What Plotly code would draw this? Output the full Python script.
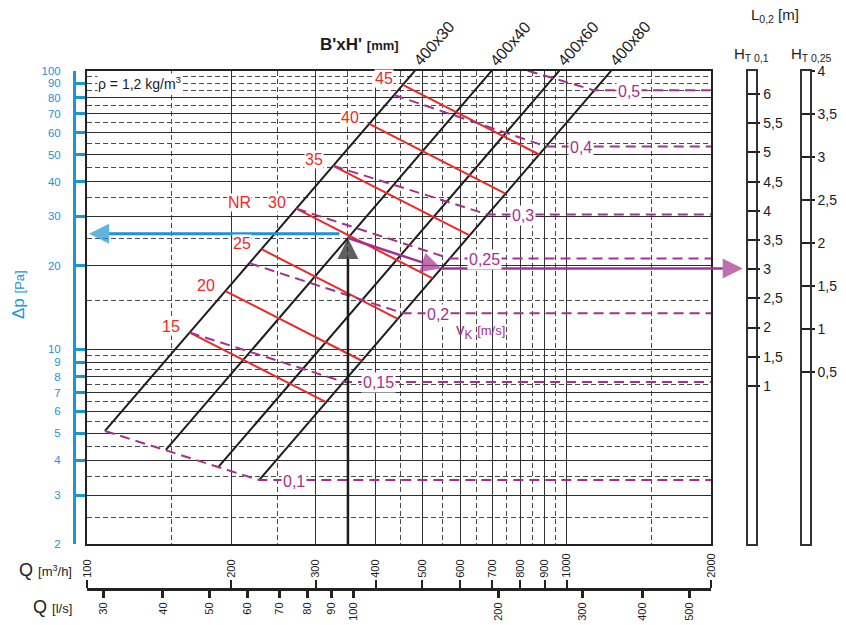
import math
import plotly.graph_objects as go

L = math.log10

# ---------------- data ----------------
Q_TICKS_M3H = [100, 200, 300, 400, 500, 600, 700, 800, 900, 1000, 2000]
Q_TICKS_LS = [30, 40, 50, 60, 70, 80, 90, 100, 200, 300, 400, 500]
DP_TICKS = [2, 3, 4, 5, 6, 7, 8, 9, 10, 20, 30, 40, 50, 60, 70, 80, 90, 100]

GRID_Q_SOLID = [200, 300, 400, 500, 600, 700, 800, 900, 1000]
GRID_Q_DASH = [150, 250, 350, 450, 550, 650, 750, 850, 950, 1500]
GRID_DP_SOLID = [3, 4, 5, 6, 7, 8, 9, 10, 20, 30, 40, 50, 60, 70, 80]
GRID_DP_DASH = [2.5, 3.5, 4.5, 5.5, 6.5, 7.5, 8.5, 9.5,
                15, 25, 35, 45, 55, 65, 75, 85, 90, 95]

# duct sizes B'xH' (black lines), endpoints (Q m3/h, dp Pa)
DUCTS = ["400x30", "400x40", "400x60", "400x80"]
DUCT_Q_LO = [109, 146, 188, 228.5]
DUCT_DP_LO = [5.1, 4.36, 3.79, 3.4]
DUCT_Q_HI = [483, 698, 966, 1239]
DUCT_DP_HI = [100, 100, 100, 100]

# NR lines (red)
NR = [15, 20, 25, 30, 35, 40, 45]
NR_Q0 = [163.8, 194.4, 231.1, 273.3, 326.2, 387.6, 455.7]
NR_DP0 = [11.5, 16.2, 22.9, 32.0, 45.6, 64.4, 89.0]
NR_Q1 = [315.1, 374.1, 444.6, 525.6, 627.5, 745.6, 876.4]
NR_DP1 = [6.47, 9.11, 12.88, 17.99, 25.64, 36.22, 50.05]

# velocity lines v_K (purple dashed): start, corner, then horizontal to Q max
VK = ["0,1", "0,15", "0,2", "0,25", "0,3", "0,4", "0,5"]
VK_Q0 = [109, 163.8, 218.2, 273.3, 326.2, 436.9, 830]
VK_DP0 = [5.1, 11.5, 20.4, 32.0, 45.6, 81.8, 100]
VK_QC = [228.5, 342.7, 455.2, 570.6, 684.3, 906.4, 1142.5]
VK_DPC = [3.4, 7.65, 13.5, 21.2, 30.5, 53.5, 85.0]
Q_MAX = 2000

# reading example (arrows)
Q_SEL = 350          # m3/h, black arrow
DP_SEL = 25.1        # Pa, on 400x40
DP_BLUE = 26         # Pa, blue read-out
Q_BLUE_FROM = 336
Q_BLUE_TO = 101
Q_V = 548            # on 400x80 along velocity line
DP_V = 19.5

# right scales
HT01_TICKS = [1, 1.5, 2, 2.5, 3, 3.5, 4, 4.5, 5, 5.5, 6]
HT025_TICKS = [0.5, 1, 1.5, 2, 2.5, 3, 3.5, 4]

# ---------------- layout constants ----------------
W, H = 846, 625
PX0, PX1 = 87 / W, 711 / W
PY0, PY1 = 1 - 544.3 / H, 1 - 70.7 / H
AX_Y = 1 - 589 / H
BAR1 = [747.7 / W, 755.7 / W]
BAR2 = [801.7 / W, 810.0 / W]

FONT = "Liberation Sans, Arial, Helvetica, sans-serif"
BLACK = "#1c1c1c"
RED = "#ec2a25"
PURPLE = "#a4308f"
BLUE = "#1b95d4"


def fmt(v):
    return f"{v:g}".replace(".", ",")


fig = go.Figure()

# duct lines
for i, name in enumerate(DUCTS):
    fig.add_trace(go.Scatter(x=[DUCT_Q_LO[i], DUCT_Q_HI[i]], y=[DUCT_DP_LO[i], DUCT_DP_HI[i]],
                             mode="lines", line=dict(color=BLACK, width=2), hoverinfo="skip",
                             showlegend=False))
# NR lines
for i, n in enumerate(NR):
    fig.add_trace(go.Scatter(x=[NR_Q0[i], NR_Q1[i]], y=[NR_DP0[i], NR_DP1[i]],
                             mode="lines", line=dict(color=RED, width=2), hoverinfo="skip",
                             showlegend=False))
# velocity lines
for i, v in enumerate(VK):
    fig.add_trace(go.Scatter(x=[VK_Q0[i], VK_QC[i], Q_MAX], y=[VK_DP0[i], VK_DPC[i], VK_DPC[i]],
                             mode="lines", line=dict(color=PURPLE, width=2, dash="10px,6px"),
                             hoverinfo="skip", showlegend=False))

# overlay full-figure axes for arrows (same mapping as main plot)
kx = (L(2000) - L(100)) / (PX1 - PX0)
OX = [L(100) - PX0 * kx, L(2000) + (1 - PX1) * kx]
ky = (L(100) - L(2)) / (PY1 - PY0)
OY = [L(2) - PY0 * ky, L(100) + (1 - PY1) * ky]
q_tip = 10 ** (OX[0] + (BAR1[0] - 5 / W) * (OX[1] - OX[0]))

arrow = dict(symbol="arrow-up", angleref="previous", line=dict(width=0))
fig.add_trace(go.Scatter(x=[Q_SEL, Q_SEL], y=[2, DP_SEL], xaxis="x7", yaxis="y7",
                         mode="lines+markers", line=dict(color=BLACK, width=2.5),
                         marker=dict(size=[0, 21], color=BLACK, **arrow),
                         cliponaxis=False, hoverinfo="skip", showlegend=False))
fig.add_trace(go.Scatter(x=[Q_BLUE_FROM, Q_BLUE_TO], y=[DP_BLUE, DP_BLUE], xaxis="x7", yaxis="y7",
                         mode="lines+markers", line=dict(color=BLUE, width=3),
                         marker=dict(size=[0, 20], color=BLUE, **arrow),
                         cliponaxis=False, hoverinfo="skip", showlegend=False))
fig.add_trace(go.Scatter(x=[Q_SEL, Q_V, q_tip], y=[DP_SEL, DP_V, DP_V], xaxis="x7", yaxis="y7",
                         mode="lines+markers", line=dict(color=PURPLE, width=2.5),
                         marker=dict(size=[0, 20, 20], color=PURPLE, **arrow),
                         cliponaxis=False, hoverinfo="skip", showlegend=False))

# empty traces to register auxiliary axes
for xa, ya in [("x", "y3"), ("x3", "y"), ("x4", "y"), ("x5", "y5"), ("x6", "y6")]:
    fig.add_trace(go.Scatter(x=[None], y=[None], xaxis=xa, yaxis=ya, mode="lines",
                             showlegend=False, hoverinfo="skip"))

NOAM = dict(automargin=False)

# ---------------- axes ----------------
fig.update_layout(
    width=W, height=H, margin=dict(l=0, r=0, t=0, b=0, pad=0, autoexpand=False),
    paper_bgcolor="white", plot_bgcolor="rgba(0,0,0,0)",
    font=dict(family=FONT, color=BLACK),
    showlegend=False,
    xaxis=dict(type="log", domain=[PX0, PX1], range=[L(100), L(2000)], anchor="y",
               tickmode="array", tickvals=GRID_Q_SOLID, showticklabels=False, ticks="",
               showgrid=True, gridcolor="#333333", gridwidth=1.2, zeroline=False,
               minor=dict(tickmode="array", tickvals=GRID_Q_DASH, showgrid=True,
                          gridcolor="#4a4a4a", gridwidth=1, griddash="5px,3px", ticks=""),
               showline=True, mirror=True, linecolor="#222", linewidth=2.2, **NOAM),
    yaxis=dict(type="log", domain=[PY0, PY1], range=[L(2), L(100)], anchor="x",
               tickmode="array", tickvals=GRID_DP_SOLID, showticklabels=False, ticks="",
               showgrid=True, gridcolor="#2e2e2e", gridwidth=1.2, zeroline=False,
               minor=dict(tickmode="array", tickvals=GRID_DP_DASH, showgrid=True,
                          gridcolor="#4a4a4a", gridwidth=1, griddash="5px,3px", ticks=""),
               showline=True, mirror=True, linecolor="#222", linewidth=2.2, **NOAM),
    yaxis3=dict(type="log", overlaying="y", anchor="free", position=74 / W, side="left",
                range=[L(2), L(100)], tickmode="array", tickvals=DP_TICKS,
                ticktext=[str(v) for v in DP_TICKS], ticks="inside", ticklen=9, tickwidth=2.5,
                tickcolor=BLUE, showline=True, linecolor=BLUE, linewidth=3, showgrid=False,
                zeroline=False, tickfont=dict(color=BLUE, size=11.5), ticklabelstandoff=10,
                **NOAM),
    xaxis3=dict(type="log", overlaying="x", anchor="free", position=AX_Y, side="top",
                range=[L(100), L(2000)], tickmode="array", tickvals=Q_TICKS_M3H,
                ticktext=[str(v) for v in Q_TICKS_M3H], ticks="outside", ticklen=8, tickwidth=2,
                tickcolor="#222", showline=True, linecolor="#222", linewidth=3, showgrid=False,
                zeroline=False, tickangle=-90, tickfont=dict(size=11), **NOAM),
    xaxis4=dict(type="log", overlaying="x", anchor="free", position=AX_Y, side="bottom",
                range=[L(100 / 3.6), L(2000 / 3.6)], tickmode="array", tickvals=Q_TICKS_LS,
                ticktext=[str(v) for v in Q_TICKS_LS], ticks="outside", ticklen=8, tickwidth=3,
                tickcolor="#222", showline=False, showgrid=False, zeroline=False,
                tickangle=-90, tickfont=dict(size=11), **NOAM),
    xaxis5=dict(domain=BAR1, range=[0, 1], anchor="y5", showline=True, mirror=True,
                linecolor="#333", linewidth=1.5, ticks="", showticklabels=False,
                showgrid=False, zeroline=False, **NOAM),
    yaxis5=dict(domain=[PY0, PY1], range=[-1.711, 6.399], anchor="x5", side="right",
                showline=True, mirror=True, linecolor="#333", linewidth=1.5,
                tickmode="array", tickvals=HT01_TICKS, ticktext=[fmt(v) for v in HT01_TICKS],
                ticks="outside", ticklen=3, tickwidth=2, tickcolor="#222",
                showgrid=True, gridcolor="#222", gridwidth=2, zeroline=False,
                tickfont=dict(size=14), **NOAM),
    xaxis6=dict(domain=BAR2, range=[0, 1], anchor="y6", showline=True, mirror=True,
                linecolor="#333", linewidth=1.5, ticks="", showticklabels=False,
                showgrid=False, zeroline=False, **NOAM),
    yaxis6=dict(domain=[PY0, PY1], range=[-1.496, 4.0], anchor="x6", side="right",
                showline=True, mirror=True, linecolor="#333", linewidth=1.5,
                tickmode="array", tickvals=HT025_TICKS, ticktext=[fmt(v) for v in HT025_TICKS],
                ticks="outside", ticklen=3, tickwidth=2, tickcolor="#222",
                showgrid=True, gridcolor="#222", gridwidth=2, zeroline=False,
                tickfont=dict(size=14), **NOAM),
    xaxis7=dict(type="log", domain=[0, 1], range=OX, anchor="y7", visible=False, **NOAM),
    yaxis7=dict(type="log", domain=[0, 1], range=OY, anchor="x7", visible=False, **NOAM),
)

# ---------------- annotations ----------------
C = dict(xanchor="center", yanchor="middle", showarrow=False)
ann = []
for i, name in enumerate(DUCTS):
    ann.append(dict(x=L(DUCT_Q_HI[i]), y=L(DUCT_DP_HI[i]), xref="x", yref="y", text=name,
                    textangle=-49, xshift=19, yshift=27,
                    font=dict(size=16, color=BLACK), **C))
for i, n in enumerate(NR):
    ann.append(dict(x=L(NR_Q0[i]), y=L(NR_DP0[i]), xref="x", yref="y", text=str(n),
                    xshift=-19, yshift=6, bgcolor="white", borderpad=0,
                    font=dict(size=16, color=RED), **C))
ann.append(dict(x=L(NR_Q0[3]), y=L(NR_DP0[3]), xref="x", yref="y", text="NR",
                xshift=-57, yshift=6.5, bgcolor="white", borderpad=0,
                font=dict(size=16, color=RED), **C))
for i, v in enumerate(VK):
    ann.append(dict(x=L(VK_QC[i]), y=L(VK_DPC[i]), xref="x", yref="y", text=v,
                    xshift=35, yshift=-1, bgcolor="white", borderpad=1,
                    font=dict(size=16, color=PURPLE), **C))
ann += [
    dict(x=L(105), y=L(90), xref="x", yref="y", xanchor="left", yanchor="middle",
         text="ρ = 1,2 kg/m<sup>3</sup>", showarrow=False, bgcolor="white", borderpad=0,
         font=dict(size=14, color=BLACK)),
    dict(x=L(660), y=L(11.6), xref="x", yref="y",
         text="v<sub>K</sub> <span style='font-size:13px'>[m/s]</span>",
         font=dict(size=17, color=PURPLE), **C),
    dict(x=359 / W, y=1 - 44 / H, xref="paper", yref="paper",
         text="<b>B'xH'</b> <b><span style='font-size:13px'>[mm]</span></b>",
         font=dict(size=17, color=BLACK), **C),
    dict(x=18 / W, y=1 - 295 / H, xref="paper", yref="paper", textangle=-90,
         text="Δp <span style='font-size:13px'>[Pa]</span>",
         font=dict(size=17, color=BLUE), **C),
    dict(x=45 / W, y=1 - 570 / H, xref="paper", yref="paper",
         text="Q <span style='font-size:13px'>[m<sup>3</sup>/h]</span>",
         font=dict(size=18, color=BLACK), **C),
    dict(x=53 / W, y=1 - 607 / H, xref="paper", yref="paper",
         text="Q <span style='font-size:13px'>[l/s]</span>",
         font=dict(size=18, color=BLACK), **C),
    dict(x=775 / W, y=1 - 16 / H, xref="paper", yref="paper",
         text="L<sub>0,2</sub> [m]", font=dict(size=15, color=BLACK), **C),
    dict(x=(BAR1[0] + BAR1[1]) / 2, y=1 - 54 / H, xref="paper", yref="paper",
         text="H<sub>T 0,1</sub>", font=dict(size=15, color=BLACK), **C),
    dict(x=(BAR2[0] + BAR2[1]) / 2 + 6 / W, y=1 - 54 / H, xref="paper", yref="paper",
         text="H<sub>T 0,25</sub>", font=dict(size=15, color=BLACK), **C),
]
fig.update_layout(annotations=ann)

fig.write_html("out.html")
